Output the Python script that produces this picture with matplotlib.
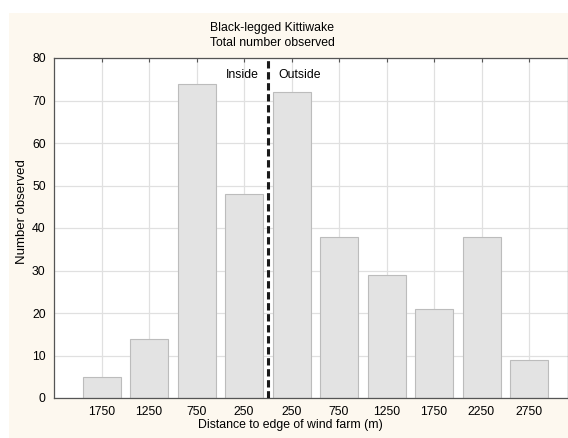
"""Black-legged Kittiwake - number observed by distance to wind farm edge"""

import matplotlib.pyplot as plt
from matplotlib.patches import Rectangle

plt.rcParams["font.family"] = ["Liberation Sans", "DejaVu Sans"]

# Data
distance_labels = ["1750", "1250", "750", "250", "250",
                   "750", "1250", "1750", "2250", "2750"]
counts = [5, 14, 74, 48, 72, 38, 29, 21, 38, 9]
y_ticks = [0, 10, 20, 30, 40, 50, 60, 70, 80]

W, H = 568, 438
FS = 8.8
fig = plt.figure(figsize=(W / 100, H / 100), dpi=100)
fig.patch.set_facecolor("white")

# cream panel behind the plot (white strip on top and left)
fig.patches.append(Rectangle((9 / W, 0), 1 - 9 / W, 1 - 13 / H,
                             transform=fig.transFigure, facecolor="#fdf8ef",
                             edgecolor="none", zorder=-10))

# axes in pixel coords: left 54, right 568, top 58, bottom 398
ax = fig.add_axes([54 / W, 1 - 398 / H, (W - 54) / W, (398 - 58) / H])
ax.set_facecolor("white")

pos = list(range(1, len(counts) + 1))
ax.bar(pos, counts, width=0.8, color="#e3e3e3", edgecolor="#bcbcbc",
       linewidth=0.8, zorder=2)

# boundary between inside and outside
ax.axvline(4.5, color="#1a1a1a", linewidth=2.2, dashes=(2.4, 1.2), zorder=3)
ax.text(4.32, 76, "Inside", ha="right", va="center", fontsize=FS)
ax.text(4.72, 76, "Outside", ha="left", va="center", fontsize=FS)

ax.set_xlim(0, (W - 54) / 47.5)
ax.set_ylim(0, 80)
ax.set_xticks(pos)
ax.set_xticklabels(distance_labels)
ax.set_yticks(y_ticks)

ax.grid(True, color="#e0e0e0", linewidth=0.9, zorder=0)
ax.tick_params(axis="x", direction="in", length=3, labelsize=FS,
               colors="#555555", labelcolor="black", top=True, pad=6)
ax.tick_params(axis="y", direction="in", length=0, labelsize=FS, pad=6)

for s in ax.spines.values():
    s.set_color("#555555")
    s.set_linewidth(0.9)

fig.text(272 / W, 1 - 28 / H, "Black-legged Kittiwake", ha="center",
         va="center", fontsize=FS)
fig.text(272 / W, 1 - 43 / H, "Total number observed", ha="center",
         va="center", fontsize=FS)
fig.text(290 / W, 1 - 425 / H, "Distance to edge of wind farm (m)",
         ha="center", va="center", fontsize=FS)
fig.text(22 / W, 1 - 212 / H, "Number observed", ha="center", va="center",
         rotation=90, fontsize=9.5)

fig.savefig("out.png", dpi=100)
